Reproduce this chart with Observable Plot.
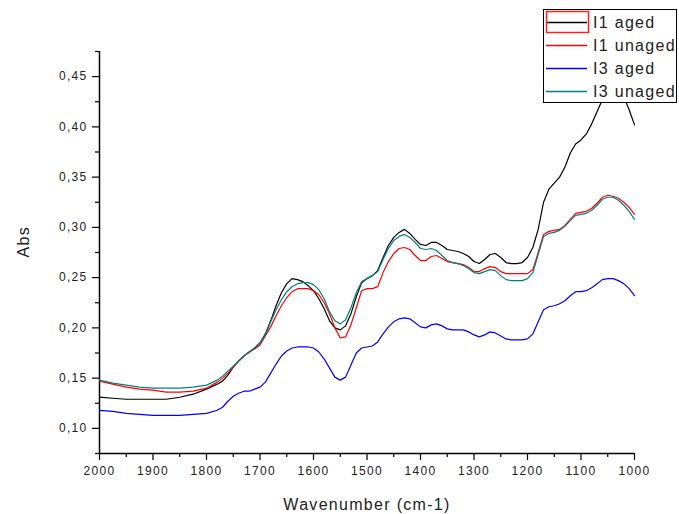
<!DOCTYPE html>
<html>
<head>
<meta charset="utf-8">
<script src="https://cdn.jsdelivr.net/npm/d3@7"></script>
<script src="https://cdn.jsdelivr.net/npm/@observablehq/plot@0.6"></script>
<style>
  html, body { margin: 0; padding: 0; background: #fff; }
  #wrap { position: relative; width: 679px; height: 514px; font-family: "Liberation Sans", Arial, sans-serif; }
  #legend { position: absolute; left: 543px; top: 9px; width: 134px; height: 94px; box-sizing: border-box;
            border: 1px solid #000; background: #fff; }
  #legend svg { display: block; }
</style>
</head>
<body>
<div id="wrap"><div id="legend"></div></div>
<script>
const wavenumbers = [2000,1975,1950,1925,1900,1875,1850,1825,1800,1780,
  1770,1760,1750,1740,1730,1720,1710,1700,1690,1680,1670,1660,1650,1640,1630,1620,1610,1600,
  1590,1580,1570,1560,1550,1540,1530,1520,1510,1500,1490,1480,1470,1460,1450,1440,1430,1420,
  1410,1400,1390,1380,1370,1360,1350,1340,1330,1320,1310,1300,1290,1280,1270,1260,1250,1240,
  1230,1220,1210,1200,1190,1180,1170,1160,1150,1140,1130,1120,1110,1100,1090,1080,1070,1060,
  1050,1040,1030,1020,1010,1000];

const i1Aged = [0.131,0.130,0.129,0.129,0.129,0.129,0.131,0.134,0.139,0.144,
  0.147,0.153,0.161,0.167,0.172,0.176,0.180,0.185,0.194,0.207,0.222,0.235,0.244,0.249,0.248,0.246,0.242,0.237,
  0.229,0.219,0.207,0.200,0.198,0.202,0.214,0.231,0.245,0.249,0.252,0.257,0.270,0.282,0.290,0.295,0.298,0.294,
  0.288,0.283,0.282,0.285,0.285,0.282,0.278,0.277,0.276,0.274,0.271,0.266,0.264,0.268,0.273,0.274,0.270,0.265,
  0.264,0.264,0.265,0.270,0.280,0.298,0.325,0.338,0.344,0.350,0.360,0.374,0.383,0.387,0.393,0.403,0.415,0.427,
  0.438,0.444,0.443,0.430,0.417,0.402];

const i1Unaged = [0.147,0.144,0.141,0.139,0.138,0.136,0.136,0.137,0.140,0.146,
  0.150,0.155,0.161,0.167,0.172,0.176,0.179,0.183,0.192,0.201,0.212,0.222,0.230,0.236,0.239,0.239,0.239,0.237,
  0.233,0.225,0.214,0.200,0.190,0.191,0.203,0.220,0.237,0.239,0.239,0.241,0.255,0.266,0.274,0.279,0.280,0.278,
  0.272,0.267,0.267,0.271,0.272,0.269,0.266,0.265,0.264,0.263,0.260,0.256,0.256,0.259,0.261,0.260,0.256,0.254,
  0.254,0.254,0.254,0.254,0.258,0.275,0.293,0.296,0.297,0.298,0.302,0.308,0.314,0.315,0.316,0.319,0.324,0.330,
  0.332,0.331,0.329,0.325,0.320,0.313];

const i3Aged = [0.118,0.117,0.115,0.114,0.113,0.113,0.113,0.114,0.115,0.118,
  0.121,0.127,0.132,0.135,0.137,0.137,0.139,0.141,0.146,0.155,0.164,0.172,0.177,0.180,0.181,0.181,0.181,0.180,
  0.176,0.169,0.160,0.151,0.148,0.151,0.163,0.175,0.180,0.181,0.182,0.186,0.194,0.201,0.206,0.209,0.210,0.209,
  0.205,0.201,0.200,0.203,0.204,0.202,0.199,0.198,0.198,0.198,0.196,0.193,0.191,0.193,0.196,0.195,0.192,0.189,
  0.188,0.188,0.188,0.189,0.194,0.206,0.218,0.221,0.222,0.224,0.227,0.232,0.236,0.236,0.237,0.240,0.244,0.248,
  0.249,0.249,0.247,0.244,0.239,0.232];

const i3Unaged = [0.148,0.145,0.143,0.141,0.140,0.140,0.140,0.141,0.143,0.148,
  0.152,0.157,0.162,0.167,0.172,0.176,0.180,0.185,0.193,0.206,0.218,0.228,0.236,0.241,0.244,0.245,0.245,0.243,
  0.238,0.229,0.216,0.207,0.204,0.208,0.220,0.235,0.246,0.249,0.252,0.256,0.268,0.279,0.287,0.291,0.293,0.290,
  0.285,0.279,0.278,0.279,0.277,0.272,0.267,0.265,0.264,0.262,0.259,0.255,0.254,0.256,0.258,0.257,0.252,0.248,
  0.247,0.247,0.247,0.249,0.255,0.273,0.291,0.294,0.295,0.297,0.301,0.307,0.312,0.313,0.314,0.317,0.322,0.328,
  0.330,0.330,0.327,0.322,0.316,0.308];

const seriesNames = ["I1 aged", "I1 unaged", "I3 aged", "I3 unaged"];
const seriesColors = ["#000000", "#ff0000", "#0000ff", "#008080"];
const seriesValues = [i1Aged, i1Unaged, i3Aged, i3Unaged];

const xTicks = [2000,1900,1800,1700,1600,1500,1400,1300,1200,1100,1000];
const xMinor = [1950,1850,1750,1650,1550,1450,1350,1250,1150,1050];
const yTicks = [0.10,0.15,0.20,0.25,0.30,0.35,0.40,0.45];
const yMinor = [0.075,0.125,0.175,0.225,0.275,0.325,0.375,0.425,0.475];
const xDomain = [2000, 1000];
const yDomain = [0.075, 0.475];
const xTitle = "Wavenumber (cm-1)";
const yTitle = "Abs";

const rows = [];
seriesNames.forEach((name, s) => {
  wavenumbers.forEach((w, i) => rows.push({series: name, w, v: seriesValues[s][i]}));
});

const fmt = d => d.toFixed(2).replace(".", ",");

const chart = Plot.plot({
  width: 679,
  height: 514,
  marginLeft: 99,
  marginRight: 45,
  marginTop: 51,
  marginBottom: 61,
  style: {fontFamily: '"Liberation Sans", Arial, sans-serif', fontSize: "12px", color: "#222", letterSpacing: "1.3px", background: "#fff"},
  x: {domain: xDomain, axis: null},
  y: {domain: yDomain, axis: null},
  color: {domain: seriesNames, range: seriesColors},
  marks: [
    Plot.axisX({ticks: xTicks, tickSize: 7, tickPadding: 6, tickFormat: d => String(d), stroke: "#000", strokeWidth: 1.2, label: null}),
    Plot.axisX({ticks: xMinor, tickSize: 4, tickFormat: () => "", stroke: "#000", strokeWidth: 1.2, label: null}),
    Plot.axisY({ticks: yTicks, tickSize: 7, tickPadding: 5, tickFormat: fmt, stroke: "#000", strokeWidth: 1.2, label: null}),
    Plot.axisY({ticks: yMinor, tickSize: 4, tickFormat: () => "", stroke: "#000", strokeWidth: 1.2, label: null}),
    Plot.ruleX([xDomain[0]], {stroke: "#000", strokeWidth: 1.5}),
    Plot.ruleY([yDomain[0]], {stroke: "#000", strokeWidth: 1.5}),
    Plot.line(rows, {x: "w", y: "v", z: "series", stroke: "series", strokeWidth: 1.2}),
    Plot.text([xTitle], {frameAnchor: "bottom", lineAnchor: "bottom", dy: 56, fontSize: 16, fill: "#222"}),
    Plot.text([yTitle], {frameAnchor: "left", rotate: -90, dx: -76, dy: 5, fontSize: 16, fill: "#222"})
  ]
});
document.getElementById("wrap").prepend(chart);

// legend (overlay box, top right)
const ns = "http://www.w3.org/2000/svg";
const lsvg = document.createElementNS(ns, "svg");
lsvg.setAttribute("width", 132);
lsvg.setAttribute("height", 92);
seriesNames.forEach((name, i) => {
  const y = 12.5 + i * 23;
  const line = document.createElementNS(ns, "line");
  line.setAttribute("x1", 2); line.setAttribute("x2", 43);
  line.setAttribute("y1", y); line.setAttribute("y2", y);
  line.setAttribute("stroke", seriesColors[i]); line.setAttribute("stroke-width", 1.5);
  lsvg.appendChild(line);
  const t = document.createElementNS(ns, "text");
  t.setAttribute("x", 49); t.setAttribute("y", y + 5.5);
  t.setAttribute("font-size", 16);
  t.setAttribute("font-family", '"Liberation Sans", Arial, sans-serif');
  t.setAttribute("letter-spacing", "1.3px");
  t.setAttribute("fill", "#222");
  t.textContent = name;
  lsvg.appendChild(t);
});
const sel = document.createElementNS(ns, "rect");
sel.setAttribute("x", 2.5); sel.setAttribute("y", 1.5);
sel.setAttribute("width", 42); sel.setAttribute("height", 21);
sel.setAttribute("fill", "none"); sel.setAttribute("stroke", "#ff2020"); sel.setAttribute("stroke-width", 1.5);
lsvg.appendChild(sel);
document.getElementById("legend").appendChild(lsvg);
</script>
</body>
</html>
